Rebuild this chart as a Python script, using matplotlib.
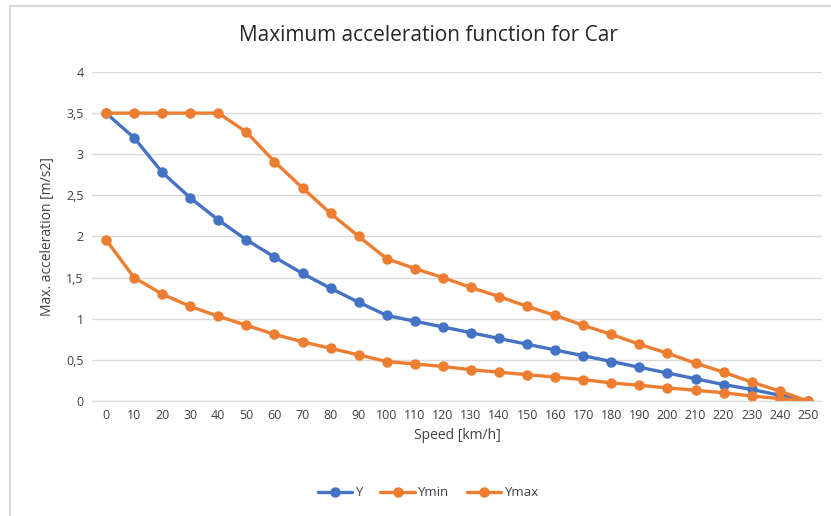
import matplotlib.pyplot as plt
from matplotlib.lines import Line2D

plt.rcParams['font.family'] = ['Open Sans', 'DejaVu Sans']

speeds = list(range(0, 260, 10))
y_mid = [3.5, 3.2, 2.78, 2.47, 2.2, 1.96, 1.75, 1.55, 1.37, 1.2, 1.04, 0.97, 0.9,
         0.83, 0.76, 0.69, 0.62, 0.55, 0.48, 0.41, 0.34, 0.27, 0.2, 0.14, 0.07, 0.0]
y_min = [1.96, 1.5, 1.3, 1.15, 1.03, 0.92, 0.81, 0.72, 0.64, 0.56, 0.48, 0.45, 0.42,
         0.38, 0.35, 0.32, 0.29, 0.26, 0.22, 0.19, 0.16, 0.13, 0.1, 0.06, 0.03, 0.0]
y_max = [3.5, 3.5, 3.5, 3.5, 3.5, 3.27, 2.91, 2.59, 2.28, 2.0, 1.73, 1.61, 1.5,
         1.38, 1.27, 1.15, 1.04, 0.92, 0.81, 0.69, 0.58, 0.46, 0.35, 0.23, 0.12, 0.0]
y_ticks = [0, 0.5, 1, 1.5, 2, 2.5, 3, 3.5, 4]

blue = '#4472C4'
orange = '#ED7D31'
grey = '#404040'

fig = plt.figure(figsize=(8.31, 5.16), dpi=100)
ax = fig.add_axes([0.1107, 0.2229, 0.8783, 0.6376])

series = [(y_mid, 'Y', blue), (y_min, 'Ymin', orange), (y_max, 'Ymax', orange)]
for vals, name, col in series:
    ax.plot(speeds, vals, color=col, lw=2.4, marker='o', ms=6.5, label=name,
            solid_capstyle='round')

ax.set_xlim(-5, 255)
ax.set_ylim(0, 4)
ax.set_xticks(speeds)
ax.set_yticks(y_ticks)
ax.set_yticklabels([f'{t:g}'.replace('.', ',') for t in y_ticks])
ax.tick_params(length=0, labelsize=9, colors=grey, pad=6)
ax.grid(axis='y', color='#D9D9D9', lw=1)
ax.set_axisbelow(True)
for s in ['top', 'right', 'left']:
    ax.spines[s].set_visible(False)
ax.spines['bottom'].set_color('#D9D9D9')

ax.set_xlabel('Speed [km/h]', fontsize=10, color='#404040', labelpad=4)
ax.set_ylabel('Max. acceleration [m/s2]', fontsize=10, color='#404040', labelpad=8)
fig.text(0.515, 0.932, 'Maximum acceleration function for Car', ha='center',
         va='center', fontsize=15, color='#262626')

ax.legend(loc='center', bbox_to_anchor=(0.515, 0.045), bbox_transform=fig.transFigure,
          ncol=3, frameon=False, fontsize=9.5, handlelength=2.6, columnspacing=1.4,
          handletextpad=0.2, labelcolor=grey)

# chart frame (only top and left edges visible in the crop)
fig.add_artist(Line2D([0.0115, 1.0], [0.988, 0.988], transform=fig.transFigure,
                      color='#D9D9D9', lw=1.5))
fig.add_artist(Line2D([0.0115, 0.0115], [0.0, 0.988], transform=fig.transFigure,
                      color='#D9D9D9', lw=1.5))

fig.savefig('out.png', dpi=100)
